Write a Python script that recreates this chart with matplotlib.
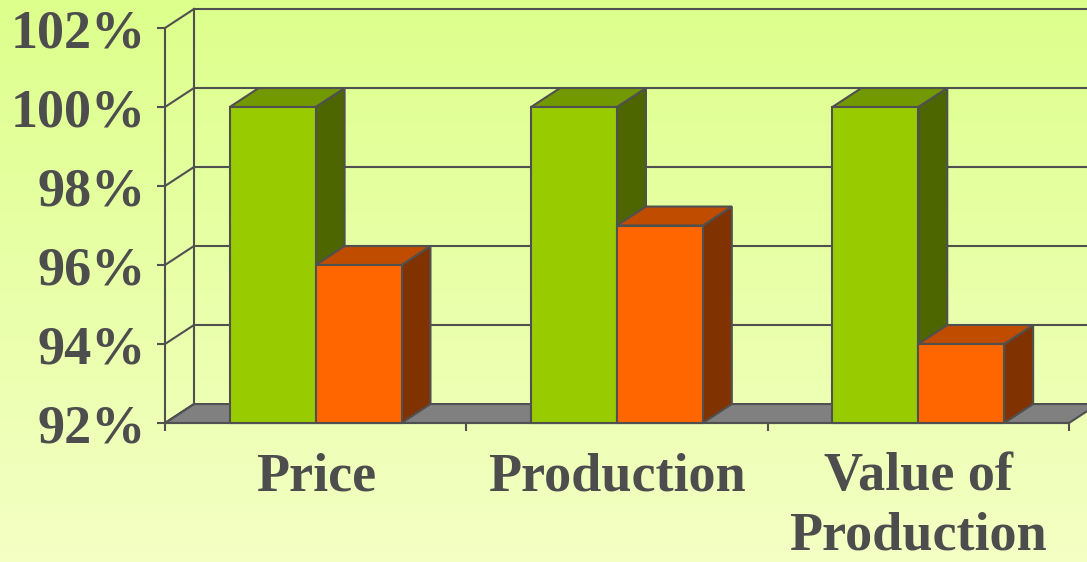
import matplotlib
matplotlib.use("Agg")
import matplotlib.pyplot as plt
from matplotlib.patches import Polygon
import numpy as np

# data
categories = ["Price", "Production", "Value of\nProduction"]
green_vals = [100, 100, 100]
orange_vals = [96, 97, 94]
y_ticks = [92, 94, 96, 98, 100, 102]

# styles
edge = "#505050"
txt = "#4d4d4d"
green = ("#99cc00", "#739900", "#4d6600")    # front, top, side
orange = ("#ff6600", "#c04c00", "#803300")
bar_w = 0.285
dx, dy = 0.096, 0.48   # 3d depth offset in data units
lw = 1.5

fig = plt.figure(figsize=(10.87, 5.62), dpi=100)

# gradient background
bg = fig.add_axes([0, 0, 1, 1], zorder=-10)
top_c = np.array([221, 255, 140]) / 255
bot_c = np.array([244, 255, 196]) / 255
t = np.linspace(0, 1, 256)[:, None, None]
grad = top_c * (1 - t) + bot_c * t
bg.imshow(np.repeat(grad, 2, axis=1), aspect="auto", extent=[0, 1, 0, 1])
bg.axis("off")

W, H = 1087, 562
ax = fig.add_axes([165 / W, (H - 423) / H, (1069 - 165) / W, (423 - 28) / H])
ax.patch.set_alpha(0)
ax.set_xlim(-0.5, 2.5)
ax.set_ylim(92, 102)

# back wall, floor and grid
x0 = -0.5
floor = Polygon([(x0, 92), (2.5, 92), (2.5 + dx, 92 + dy), (x0 + dx, 92 + dy)],
                closed=True, facecolor="#808080", edgecolor=edge, lw=lw,
                clip_on=False, zorder=1)
ax.add_patch(floor)
for y in y_ticks:
    ax.plot([x0, x0 + dx], [y, y + dy], color=edge, lw=lw, clip_on=False, zorder=2)
    if y > 92:
        ax.plot([x0 + dx, 3.0], [y + dy, y + dy], color=edge, lw=lw, clip_on=False, zorder=2)
ax.plot([x0 + dx, x0 + dx], [92 + dy, 102 + dy], color=edge, lw=lw, clip_on=False, zorder=2)


def bar3d(xc, val, cols, z):
    l, r = xc - bar_w / 2, xc + bar_w / 2
    b = 92
    front = Polygon([(l, b), (r, b), (r, val), (l, val)], closed=True,
                    facecolor=cols[0], edgecolor=edge, lw=lw, clip_on=False, zorder=z)
    top = Polygon([(l, val), (r, val), (r + dx, val + dy), (l + dx, val + dy)], closed=True,
                  facecolor=cols[1], edgecolor=edge, lw=lw, clip_on=False, zorder=z)
    side = Polygon([(r, b), (r + dx, b + dy), (r + dx, val + dy), (r, val)], closed=True,
                   facecolor=cols[2], edgecolor=edge, lw=lw, clip_on=False, zorder=z)
    for p in (side, top, front):
        ax.add_patch(p)


for i in range(len(categories)):
    bar3d(i - bar_w / 2, green_vals[i], green, 3)
    bar3d(i + bar_w / 2, orange_vals[i], orange, 4)

# axes
for s in ["top", "right"]:
    ax.spines[s].set_visible(False)
for s in ["left", "bottom"]:
    ax.spines[s].set_color(edge)
    ax.spines[s].set_linewidth(lw)
    ax.spines[s].set_zorder(5)

font = dict(family="Liberation Serif", weight="bold", size=39)
ax.set_yticks(y_ticks)
ax.set_yticklabels([f"{v}%" for v in y_ticks], color=txt, **font)
ax.tick_params(axis="y", length=6, width=lw, color=edge, pad=8)
ax.set_xticks(range(len(categories)))
ax.set_xticklabels(categories, color=txt, linespacing=1.25, **font)
ax.set_xticks([-0.5, 0.5, 1.5, 2.5], minor=True)
ax.tick_params(axis="x", which="major", length=0, pad=21)
ax.tick_params(axis="x", which="minor", length=6, width=lw, color=edge)

fig.savefig("out.png", dpi=100)
